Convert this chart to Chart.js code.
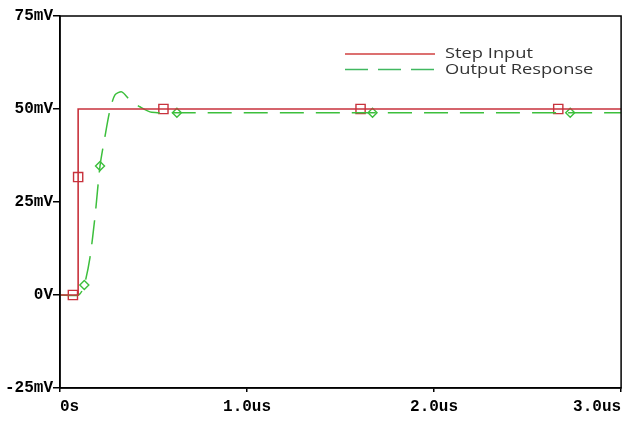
<!DOCTYPE html>
<html>
<head>
<meta charset="utf-8">
<script src="https://cdn.jsdelivr.net/npm/chart.js@4.4.0/dist/chart.umd.min.js"></script>
<style>
  html, body { margin: 0; padding: 0; background: #fff; }
  #wrap { width: 629px; height: 424px; }
</style>
</head>
<body>
<div id="wrap"><canvas id="plot" width="629" height="424"></canvas></div>
<script>
// Values (time in us, voltage in mV)
const stepTimes = [0, 0.097, 0.097, 3.0];
const stepValues = [0, 0, 50, 50];
const stepMarkTimes = [0.069, 0.097, 0.553, 1.607, 2.664];
const stepMarkValues = [0, 31.7, 50, 50, 50];

const outTimes = [0, 0.1, 0.13, 0.16, 0.187, 0.214, 0.24, 0.267, 0.294, 0.33, 0.374, 0.427, 0.49, 0.63, 3.0];
const outValues = [0, 0, 2.7, 10, 21, 34.7, 42.5, 49.7, 53.8, 54.6, 52.4, 50.6, 49.1, 49.0, 49.0];
const outMarkTimes = [0.13, 0.214, 0.625, 1.671, 2.728];
const outMarkValues = [2.7, 34.7, 49.0, 49.0, 49.0];

const seriesNames = ['Step Input', 'Output Response'];
const xTickLabels = ['0s', '1.0us', '2.0us', '3.0us'];
const yTickLabels = ['-25mV', '0V', '25mV', '50mV', '75mV'];

const RED = '#c8323c';
const GREEN = '#3cbf3c';

function pts(xs, ys) {
    return xs.map((x, i) => ({ x: x, y: ys[i] }));
}

// Legend drawn inside the plot, plus the frame round the plot area
const boxLegend = {
    id: 'boxLegend',
    afterDraw(chart) {
        const c = chart.ctx;
        const a = chart.chartArea;
        c.save();
        c.strokeStyle = '#000';
        c.lineWidth = 1.5;
        c.strokeRect(a.left, a.top, a.right - a.left, a.bottom - a.top);

        const rows = [
            { name: seriesNames[0], color: '#d04040', dash: [], y: 54 },
            { name: seriesNames[1], color: '#40b860', dash: [23, 10], y: 69.5 }
        ];
        rows.forEach(r => {
            c.beginPath();
            c.setLineDash(r.dash);
            c.strokeStyle = r.color;
            c.lineWidth = 1.3;
            c.moveTo(345, r.y);
            c.lineTo(435, r.y);
            c.stroke();
            c.setLineDash([]);
            c.save();
            c.translate(445, r.y);
            c.scale(1.22, 1);
            c.fillStyle = '#333';
            c.font = '15px "Open Sans"';
            c.textBaseline = 'middle';
            c.fillText(r.name, 0, 0);
            c.restore();
        });
        c.restore();
    }
};

const ctx = document.getElementById('plot');
let plot = new Chart(ctx, {
    type: 'line',
    data: {
        datasets: [{
            label: seriesNames[0],
            data: pts(stepTimes, stepValues),
            borderColor: RED,
            borderWidth: 1.6,
            pointRadius: 0,
            tension: 0
        }, {
            label: seriesNames[1],
            data: pts(outTimes, outValues),
            borderColor: GREEN,
            borderWidth: 1.5,
            borderDash: [24, 12],
            pointRadius: 0,
            tension: 0.25
        }, {
            label: 'step marks',
            data: pts(stepMarkTimes, stepMarkValues),
            showLine: false,
            pointStyle: 'rect',
            pointRadius: 6.5,
            pointBorderWidth: 1.4,
            pointBorderColor: RED,
            pointBackgroundColor: 'rgba(0,0,0,0)'
        }, {
            label: 'output marks',
            data: pts(outMarkTimes, outMarkValues),
            showLine: false,
            pointStyle: 'rectRot',
            pointRadius: 4.5,
            pointBorderWidth: 1.4,
            pointBorderColor: GREEN,
            pointBackgroundColor: 'rgba(0,0,0,0)'
        }]
    },
    options: {
        responsive: false,
        animation: false,
        layout: { padding: { top: 16, right: 7, left: 0, bottom: 0 } },
        plugins: {
            legend: { display: false },
            tooltip: { enabled: false }
        },
        scales: {
            x: {
                type: 'linear',
                min: 0,
                max: 3,
                afterFit: (s) => { s.height = 36; },
                grid: {
                    drawOnChartArea: false,
                    drawTicks: true,
                    tickLength: 4,
                    color: '#000',
                    lineWidth: 1.5
                },
                border: { display: true, color: '#000', width: 1.5 },
                ticks: {
                    stepSize: 1,
                    align: 'inner',
                    maxRotation: 0,
                    padding: 5,
                    color: '#000',
                    font: { family: '"Liberation Mono"', size: 16, weight: 'bold' },
                    callback: (v) => xTickLabels[Math.round(v)]
                }
            },
            y: {
                min: -25,
                max: 75,
                afterFit: (s) => { s.width = 60; },
                grid: {
                    drawOnChartArea: false,
                    drawTicks: true,
                    tickLength: 7,
                    color: '#000',
                    lineWidth: 1.5
                },
                border: { display: true, color: '#000', width: 1.5 },
                ticks: {
                    stepSize: 25,
                    padding: 0,
                    color: '#000',
                    font: { family: '"Liberation Mono"', size: 16, weight: 'bold' },
                    callback: (v) => yTickLabels[Math.round((v + 25) / 25)]
                }
            }
        }
    },
    plugins: [boxLegend]
});
</script>
</body>
</html>
